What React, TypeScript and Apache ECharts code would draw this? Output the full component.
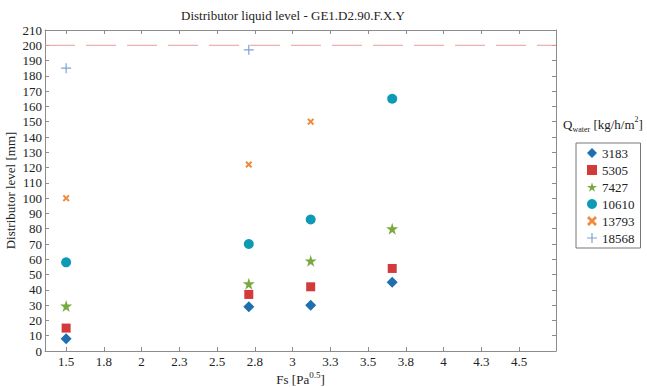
import React, { useEffect, useRef } from "react";
import * as echarts from "echarts";

const titleText = "Distributor liquid level - GE1.D2.90.F.X.Y";
const fsValues = [1.5, 2.71, 3.12, 3.66];
const xTicks = [1.5, 1.75, 2.0, 2.25, 2.5, 2.75, 3.0, 3.25, 3.5, 3.75, 4.0, 4.25, 4.5];
const xTickLabels = ["1.5", "1.8", "2", "2.3", "2.5", "2.8", "3", "3.3", "3.5", "3.8", "4", "4.3", "4.5"];
const seriesNames = ["3183", "5305", "7427", "10610", "13793", "18568"];
const q3183 = [8, 29, 30, 45];
const q5305 = [15, 37, 42, 54];
const q7427 = [29.5, 44, 59, 80];
const q10610 = [58, 70, 86, 165];
const q13793 = [100, 122, 150];
const q18568 = [185, 197];
const limitLevel = 200;

const seriesValues = [q3183, q5305, q7427, q10610, q13793, q18568];
const colors = ["#1f6eb0", "#d23a3c", "#79aa3f", "#0e9ab4", "#f08a3c", "#7fa3d8"];
const STAR = "path://M50,0 L61,35 L98,35 L68,57 L79,91 L50,70 L21,91 L32,57 L2,35 L39,35 Z";
const XMARK = "path://M0,2 L2,0 L5,3 L8,0 L10,2 L7,5 L10,8 L8,10 L5,7 L2,10 L0,8 L3,5 Z";
const PLUS = "path://M4.4,0 H5.6 V4.4 H10 V5.6 H5.6 V10 H4.4 V5.6 H0 V4.4 H4.4 Z";
const symbols = ["diamond", "rect", STAR, "circle", XMARK, PLUS];
const sizes = [11, 9, 12, 10, 7, 10];

const FONT = "'Liberation Serif', 'Times New Roman', Times, 'DejaVu Serif', serif";
const AXIS_COLOR = "#8c8c8c";
const XMIN = 1.36;
const XMAX = 4.745;

export default function App() {
  const ref = useRef<HTMLDivElement>(null);
  useEffect(() => {
    if (!ref.current) return;
    const chart = echarts.init(ref.current, undefined, { renderer: "svg" });
    const tickFmt = (v: number) => {
      let best = 0;
      xTicks.forEach((t, i) => {
        if (Math.abs(t - v) < Math.abs(xTicks[best] - v)) best = i;
      });
      return xTickLabels[best];
    };
    const series: any[] = seriesNames.map((name, si) => ({
      name,
      type: "scatter",
      symbol: symbols[si],
      symbolSize: sizes[si],
      itemStyle: { color: colors[si], opacity: 1 },
      data: seriesValues[si].map((v, i) => [fsValues[i], v]),
      xAxisIndex: 0,
      yAxisIndex: 0,
      z: 3,
    }));
    series.push({
      name: "limit",
      type: "line",
      symbol: "none",
      silent: true,
      lineStyle: { color: "#eb9b9b", width: 1, type: [30, 11] },
      data: [
        [XMIN, limitLevel],
        [XMAX, limitLevel],
      ],
      xAxisIndex: 0,
      yAxisIndex: 0,
      z: 2,
    });
    chart.setOption({
      animation: false,
      textStyle: { fontFamily: FONT },
      grid: { left: 45, right: 91, top: 30, bottom: 36, containLabel: false, outerBoundsMode: "none" },
      graphic: [
        {
          type: "text",
          x: 293,
          y: 15,
          style: {
            text: titleText,
            fontFamily: FONT,
            fontSize: 13,
            fill: "#222",
            textAlign: "center",
            textVerticalAlign: "middle",
          },
        },
        {
          type: "text",
          x: 563,
          y: 115,
          style: {
            text: "{a|Q}{sub|water}{a| [kg/h/m}{sup|2}{a|]}",
            fill: "#222",
            rich: {
              a: { fontFamily: FONT, fontSize: 13, lineHeight: 18, verticalAlign: "middle" },
              sub: { fontFamily: FONT, fontSize: 8, lineHeight: 18, verticalAlign: "bottom", padding: [6, 0, 0, 0] },
              sup: { fontFamily: FONT, fontSize: 8, lineHeight: 18, verticalAlign: "top", padding: [0, 0, 6, 0] },
            },
          },
        },
      ],
      legend: {
        data: seriesNames,
        orient: "vertical",
        left: 576,
        top: 143,
        padding: [3, 6, 3, 11],
        itemWidth: 10,
        itemHeight: 10,
        itemGap: 3,
        borderColor: "#777",
        borderWidth: 1,
        textStyle: { fontFamily: FONT, fontSize: 13, lineHeight: 14, color: "#222" },
      },
      xAxis: [
        {
          type: "value",
          min: XMIN,
          max: XMAX,
          position: "bottom",
          name: "{a|Fs [Pa}{sup|0.5}{a|]}",
          nameLocation: "middle",
          nameGap: 19,
          nameMoveOverlap: false,
          nameTextStyle: {
            rich: {
              a: { fontFamily: FONT, fontSize: 13, color: "#222", lineHeight: 16, verticalAlign: "bottom" },
              sup: { fontFamily: FONT, fontSize: 9, color: "#222", lineHeight: 16, verticalAlign: "top" },
            },
          },
          axisLine: { show: true, onZero: false, lineStyle: { color: AXIS_COLOR } },
          axisTick: { show: true, inside: true, length: 4, customValues: xTicks, lineStyle: { color: AXIS_COLOR } },
          axisLabel: {
            customValues: xTicks,
            formatter: tickFmt,
            fontFamily: FONT,
            fontSize: 13,
            color: "#222",
            margin: 4,
          },
          splitLine: { show: false },
        },
        {
          type: "value",
          min: XMIN,
          max: XMAX,
          position: "top",
          axisLine: { show: true, onZero: false, lineStyle: { color: AXIS_COLOR } },
          axisTick: { show: true, inside: true, length: 4, customValues: xTicks, lineStyle: { color: AXIS_COLOR } },
          axisLabel: { show: false, customValues: xTicks },
          splitLine: { show: false },
        },
      ],
      yAxis: [
        {
          type: "value",
          min: 0,
          max: 210,
          interval: 10,
          position: "left",
          name: "Distributor level [mm]",
          nameLocation: "middle",
          nameGap: 28,
          nameMoveOverlap: false,
          nameTextStyle: { fontFamily: FONT, fontSize: 13, color: "#222" },
          axisLine: { show: true, onZero: false, lineStyle: { color: AXIS_COLOR } },
          axisTick: { show: true, inside: true, length: 4, lineStyle: { color: AXIS_COLOR } },
          axisLabel: { fontFamily: FONT, fontSize: 13, color: "#222", margin: 3 },
          splitLine: { show: false },
        },
        {
          type: "value",
          min: 0,
          max: 210,
          interval: 10,
          position: "right",
          axisLine: { show: true, onZero: false, lineStyle: { color: AXIS_COLOR } },
          axisTick: { show: true, inside: true, length: 4, lineStyle: { color: AXIS_COLOR } },
          axisLabel: { show: false },
          splitLine: { show: false },
        },
      ],
      series,
    });
    return () => chart.dispose();
  }, []);
  return <div ref={ref} style={{ width: 647, height: 387, position: "absolute", left: 0, top: 0 }} />;
}
